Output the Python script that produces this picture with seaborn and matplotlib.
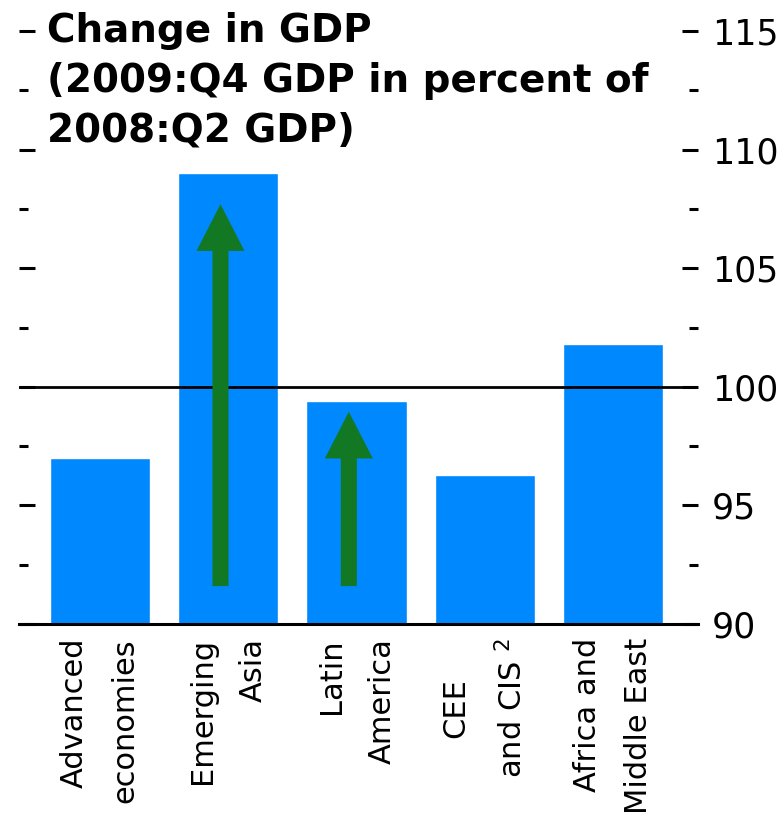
import matplotlib
matplotlib.use("Agg")
import matplotlib.pyplot as plt
from matplotlib.ticker import MultipleLocator
import seaborn as sns
import pandas as pd

categories = ["Advanced\neconomies", "Emerging\nAsia", "Latin\nAmerica", "CEE\nand CIS $^2$", "Africa and\nMiddle East"]
gdp_index = [97.0, 109.0, 99.4, 96.3, 101.8]
arrow_categories = [1, 2]
arrow_start = [91.6, 91.6]
arrow_end = [107.7, 98.95]
yticks_major = [90, 95, 100, 105, 110, 115]
title_text = "Change in GDP\n(2009:Q4 GDP in percent of\n2008:Q2 GDP)"

sns.set_style("white")
plt.rcParams['font.family'] = ['DejaVu Sans']
plt.rcParams['text.color'] = 'black'
plt.rcParams['xtick.color'] = 'black'
plt.rcParams['ytick.color'] = 'black'

df = pd.DataFrame({"region": categories, "value": gdp_index})

fig = plt.figure(figsize=(7.84, 8.17), dpi=100)
ax = fig.add_axes([0.0242, 0.2362, 0.866, 0.7258])

sns.barplot(data=df, x="region", y="value", color="#0088FF", saturation=1,
            width=0.78, ax=ax, zorder=2)

ax.set_ylim(90, 115)
ax.set_xlim(-0.63, 4.66)
ax.axhline(100, color="black", lw=2.0, zorder=3)

for c, s, e in zip(arrow_categories, arrow_start, arrow_end):
    ax.arrow(c - 0.06, s, 0, e - s, width=0.125, head_width=0.374,
             head_length=1.97, length_includes_head=True,
             color="#137824", zorder=4, linewidth=0)

for side in ["top", "left", "right"]:
    ax.spines[side].set_visible(False)
ax.spines["bottom"].set_color("black")
ax.spines["bottom"].set_linewidth(2.2)
ax.spines["bottom"].set_zorder(5)

ax.yaxis.set_major_locator(MultipleLocator(5))
ax.yaxis.set_minor_locator(MultipleLocator(2.5))
ax.set_yticks(yticks_major)
ax.set_yticklabels([str(v) for v in yticks_major])
ax.tick_params(axis="y", which="both", left=True, right=True, labelleft=False,
               labelright=True, direction="in", width=2.2, color="black",
               labelcolor="black")
ax.tick_params(axis="y", which="major", length=11.5, pad=10, labelsize=25)
ax.tick_params(axis="y", which="minor", length=6.5)

ax.set_xticks(range(len(categories)))
ax.set_xticklabels(categories, rotation=90, fontsize=22)
ax.tick_params(axis="x", length=0, pad=10, labelcolor="black")
for i, lbl in enumerate(ax.get_xticklabels()):
    lbl.set_multialignment("center" if i == 3 else "right")
    lbl.set_linespacing(1.95)
    lbl.set_va("top")
    lbl.set_ha("center")

ax.set_xlabel("")
ax.set_ylabel("")
ax.grid(False)

fig.text(0.06, 0.985, title_text, fontsize=28, fontweight="bold",
         va="top", ha="left", linespacing=1.38, color="black")

fig.savefig("out.png", dpi=100)
